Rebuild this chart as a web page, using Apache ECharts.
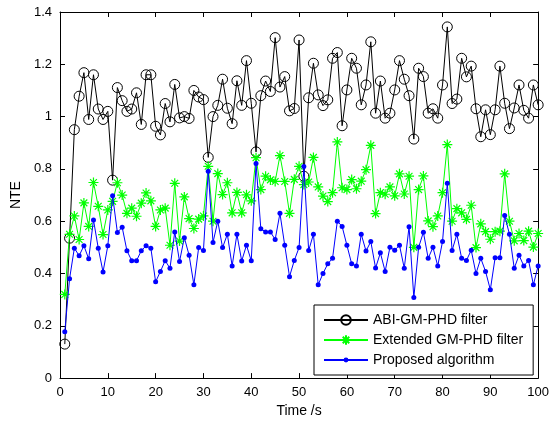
<!DOCTYPE html>
<html>
<head>
<meta charset="utf-8">
<script src="https://cdn.jsdelivr.net/npm/echarts@6/dist/echarts.min.js"></script>
<style>
html,body{margin:0;padding:0;background:#fff;}
#chart{width:552px;height:423px;}
</style>
</head>
<body>
<div id="chart"></div>
<script>
const seriesNames = ['ABI-GM-PHD filter', 'Extended GM-PHD filter', 'Proposed algorithm'];
const timeSteps = [1,2,3,4,5,6,7,8,9,10,11,12,13,14,15,16,17,18,19,20,
  21,22,23,24,25,26,27,28,29,30,31,32,33,34,35,36,37,38,39,40,
  41,42,43,44,45,46,47,48,49,50,51,52,53,54,55,56,57,58,59,60,
  61,62,63,64,65,66,67,68,69,70,71,72,73,74,75,76,77,78,79,80,
  81,82,83,84,85,86,87,88,89,90,91,92,93,94,95,96,97,98,99,100];
const abiValues = [0.13,0.535,0.95,1.078,1.168,0.989,1.16,1.029,0.989,1.02,
  0.757,1.111,1.061,1.02,1.029,1.091,0.97,1.16,1.16,0.963,
  0.93,1.05,0.98,1.123,0.995,1.0,0.993,1.1,1.075,1.065,
  0.844,1.0,1.043,1.143,1.032,0.973,1.137,1.043,1.214,1.051,
  0.865,1.08,1.136,1.096,1.302,1.113,1.153,1.022,1.031,1.293,
  0.772,1.072,1.204,1.083,1.042,1.064,1.223,1.245,0.965,1.102,
  1.223,1.185,1.045,1.121,1.286,1.013,1.136,0.994,1.013,1.102,
  1.214,1.143,1.08,0.914,1.185,1.153,1.013,1.03,0.994,1.121,
  1.343,1.05,1.067,1.223,1.152,1.193,1.03,0.923,1.026,0.931,
  1.026,1.193,1.051,0.954,1.033,1.121,1.024,0.994,1.121,1.045];
const extendedValues = [0.32,0.55,0.62,0.53,0.67,0.58,0.748,0.657,0.549,0.643,
  0.676,0.747,0.70,0.63,0.65,0.619,0.669,0.708,0.678,0.58,
  0.643,0.65,0.508,0.745,0.524,0.693,0.61,0.572,0.608,0.62,
  0.81,0.60,0.782,0.702,0.747,0.632,0.71,0.632,0.701,0.678,
  0.843,0.721,0.772,0.758,0.752,0.851,0.752,0.63,0.76,0.81,
  0.74,0.75,0.844,0.731,0.696,0.675,0.709,0.903,0.728,0.721,
  0.759,0.724,0.753,0.797,0.89,0.629,0.709,0.703,0.731,0.697,
  0.781,0.704,0.772,0.50,0.721,0.773,0.601,0.579,0.62,0.709,
  0.893,0.60,0.648,0.632,0.607,0.661,0.499,0.59,0.56,0.531,
  0.56,0.562,0.781,0.60,0.525,0.553,0.526,0.562,0.501,0.553];
const proposedValues = [0.177,0.38,0.497,0.468,0.506,0.456,0.605,0.497,0.406,0.506,
  0.697,0.557,0.577,0.487,0.449,0.449,0.487,0.506,0.497,0.368,
  0.408,0.449,0.42,0.559,0.446,0.537,0.47,0.357,0.499,0.488,
  0.791,0.519,0.60,0.499,0.55,0.429,0.55,0.448,0.508,0.449,
  0.821,0.571,0.559,0.559,0.53,0.63,0.508,0.388,0.45,0.499,
  0.809,0.488,0.55,0.357,0.40,0.437,0.458,0.60,0.58,0.508,
  0.437,0.429,0.55,0.486,0.522,0.421,0.479,0.408,0.50,0.489,
  0.508,0.42,0.579,0.308,0.50,0.558,0.458,0.50,0.429,0.522,
  0.745,0.488,0.55,0.458,0.45,0.489,0.40,0.458,0.408,0.338,
  0.46,0.46,0.622,0.55,0.42,0.47,0.429,0.45,0.357,0.429];

const FONT = "'Liberation Sans', Arial, Helvetica, sans-serif";
function pairs(vals){ return timeSteps.map((t,i)=>[t, vals[i]]); }
const starPath = 'path://M5,0L5,10M0,5L10,5M1.6,1.6L8.4,8.4M1.6,8.4L8.4,1.6';

const axisCommon = {
  axisLine:{show:true,onZero:false,lineStyle:{color:'#000',width:1}},
  axisTick:{show:true,inside:true,length:5,lineStyle:{color:'#000',width:1}},
  splitLine:{show:false}
};
const legendText = {fontFamily:FONT,fontSize:14,color:'#000'};

const chart = echarts.init(document.getElementById('chart'), null, {renderer:'canvas'});
chart.setOption({
  animation:false,
  backgroundColor:'#fff',
  textStyle:{fontFamily:FONT,color:'#000'},
  grid:{left:60,right:9,top:12,bottom:44,containLabel:false},
  xAxis:[
    Object.assign({type:'value',min:0,max:100,interval:10,position:'bottom',
      name:'Time /s',nameLocation:'middle',nameGap:24,
      nameTextStyle:{fontFamily:FONT,fontSize:14,color:'#000'},
      axisLabel:{fontFamily:FONT,fontSize:13,color:'#000',margin:8}}, axisCommon),
    Object.assign({type:'value',min:0,max:100,interval:10,position:'top',
      axisLabel:{show:false}}, axisCommon)
  ],
  yAxis:[
    Object.assign({type:'value',min:0,max:1.4,interval:0.2,position:'left',
      name:'NTE',nameLocation:'middle',nameGap:34,
      nameTextStyle:{fontFamily:FONT,fontSize:14,color:'#000'},
      axisLabel:{fontFamily:FONT,fontSize:13,color:'#000',margin:8}}, axisCommon),
    Object.assign({type:'value',min:0,max:1.4,interval:0.2,position:'right',
      axisLabel:{show:false}}, axisCommon)
  ],
  legend:[
    {
      orient:'vertical',
      left:314, top:305,
      padding:[8,10,28,9],
      itemGap:6,
      itemWidth:44,
      itemHeight:12,
      borderColor:'#000',
      borderWidth:1,
      backgroundColor:'#fff',
      textStyle:legendText,
      data:[seriesNames[0], seriesNames[1]],
      z:5
    },
    {
      orient:'vertical',
      left:323, top:353,
      padding:0,
      itemWidth:44,
      itemHeight:6,
      textStyle:legendText,
      data:[seriesNames[2]],
      z:6
    }
  ],
  series:[
    {name:seriesNames[0],type:'line',data:pairs(abiValues),
      symbol:'circle',symbolSize:10,
      lineStyle:{color:'#000',width:1},
      itemStyle:{color:'rgba(0,0,0,0)',borderColor:'#000',borderWidth:1},
      z:2},
    {name:seriesNames[1],type:'line',data:pairs(extendedValues),
      symbol:starPath,symbolSize:10,
      lineStyle:{color:'#00ff00',width:1},
      itemStyle:{color:'#00ff00',borderColor:'#00ff00',borderWidth:1.2},
      z:3},
    {name:seriesNames[2],type:'line',data:pairs(proposedValues),
      symbol:'circle',symbolSize:5,
      lineStyle:{color:'#0000ff',width:1},
      itemStyle:{color:'#0000ff',borderColor:'#0000ff',borderWidth:0},
      z:4}
  ]
});
</script>
</body>
</html>
